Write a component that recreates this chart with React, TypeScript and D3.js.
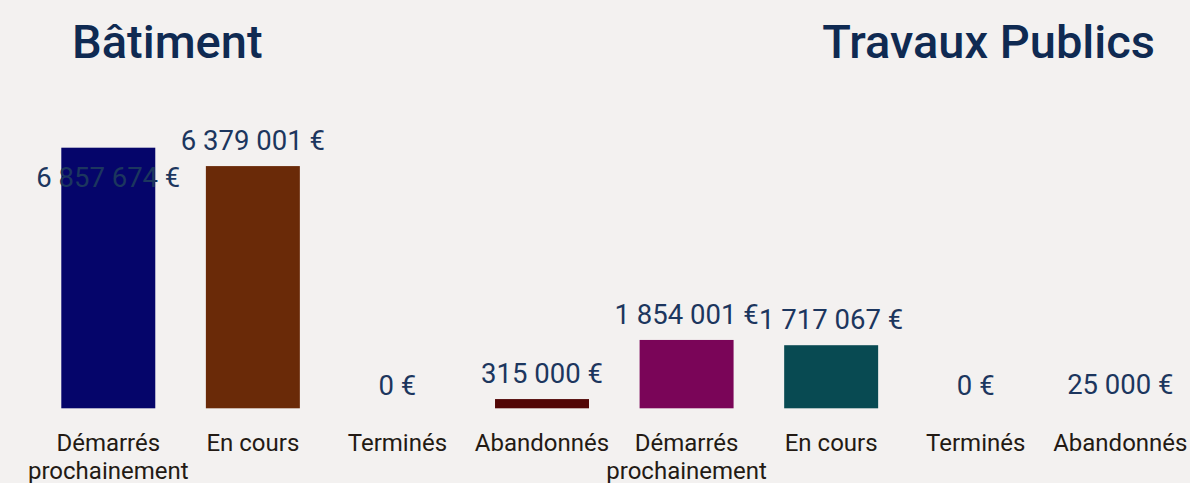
import React from "react";
import * as d3 from "d3";

const groups = ["Bâtiment", "Travaux Publics"];
const statuses = [["Démarrés", "prochainement"], ["En cours"], ["Terminés"], ["Abandonnés"]];
const batimentValues = [6857674, 6379001, 0, 315000];
const travauxValues = [1854001, 1717067, 0, 25000];
const batimentColors = ["#05056a", "#6a2a08", "#5a1a10", "#520606"];
const travauxColors = ["#7a0558", "#084a52", "#2a5a40", "#3a3a3a"];
const axisFloor = 75000;

const W = 1190;
const H = 483;

const fr = d3.formatLocale({ decimal: ",", thousands: "\u00a0", grouping: [3], currency: ["", " €"] });
const fmt = (v: number) => fr.format(",")(v) + " €";

export default function App() {
  const bars = [
    ...batimentValues.map((v, i) => ({ key: "b" + i, value: v, lines: statuses[i], color: batimentColors[i] })),
    ...travauxValues.map((v, i) => ({ key: "t" + i, value: v, lines: statuses[i], color: travauxColors[i] })),
  ];
  const maxV = d3.max(bars, (d) => d.value) as number;
  const x = d3
    .scaleBand<string>()
    .domain(bars.map((d) => d.key))
    .range([36, 1192.6])
    .paddingInner(0.35)
    .paddingOuter(0.175);
  const y = d3.scaleLinear().domain([axisFloor, maxV]).range([408.3, 147.7]);
  const base = y(axisFloor);

  return (
    <div style={{ position: "absolute", left: 0, top: 0, width: W, height: H }}>
      <svg width={W} height={H} style={{ display: "block", background: "#f3f1f0" }} fontFamily="Roboto">
        <rect x={0} y={0} width={W} height={H} fill="#f3f1f0" />
        <text x={72} y={58} fontSize={47} fontWeight={500} fill="#0f2a52">{groups[0]}</text>
        <text x={1155} y={58} fontSize={47} fontWeight={500} fill="#0f2a52" textAnchor="end">{groups[1]}</text>
        {bars.map((d) => {
          const x0 = x(d.key) as number;
          const cx = x0 + x.bandwidth() / 2;
          const top = y(d.value);
          const inside = d.value === maxV;
          const ly = inside ? top + 39 : top - 16;
          const h = Math.max(0, base - top);
          return (
            <g key={d.key}>
              {h > 0 && <rect x={x0} y={top} width={x.bandwidth()} height={h} fill={d.color} />}
              <text x={cx} y={ly} fontSize={27.5} fill="#1c365e" textAnchor="middle">{fmt(d.value)}</text>
              <text x={cx} y={451} fontSize={24} fill="#231a14" textAnchor="middle">
                {d.lines.map((l, j) => (
                  <tspan key={j} x={cx} y={451 + j * 28}>{l}</tspan>
                ))}
              </text>
            </g>
          );
        })}
      </svg>
    </div>
  );
}
